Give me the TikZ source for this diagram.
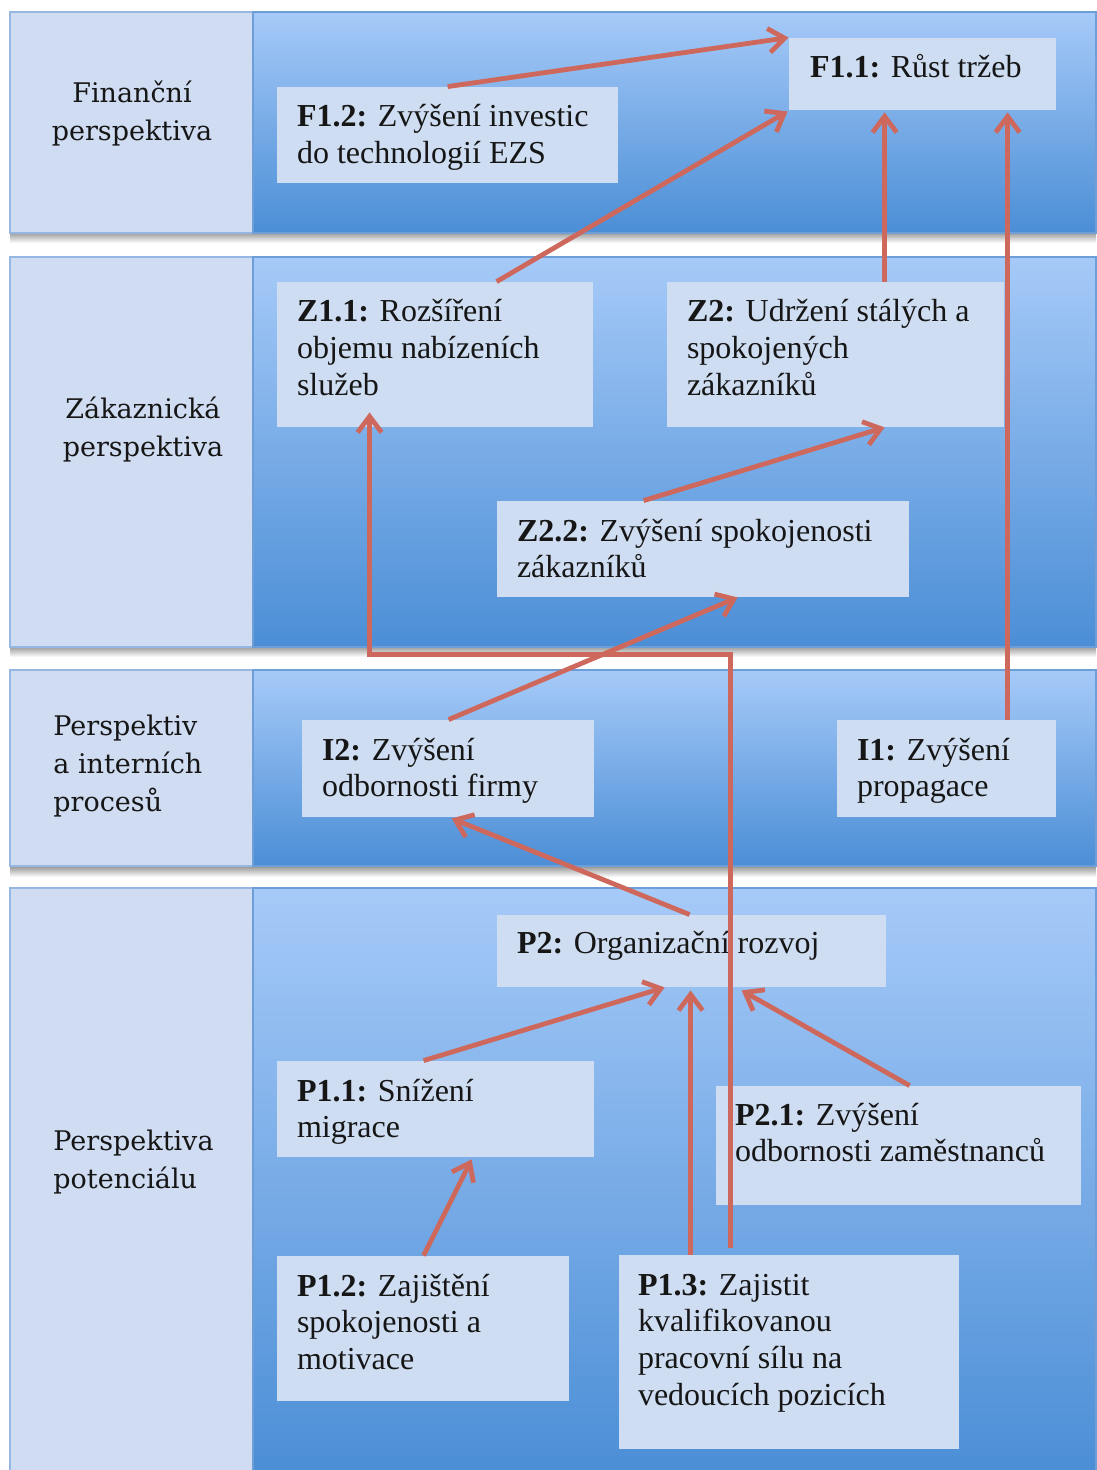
\documentclass[tikz,border=0pt]{standalone}
\usepackage{fontspec}
\setmainfont{Liberation Serif}
\newfontfamily\labelfamily{DejaVu Serif}
\usetikzlibrary{arrows.meta,calc,fit}

\definecolor{labelfill}{RGB}{207,220,241}
\definecolor{labeledge}{RGB}{150,183,226}
\definecolor{paneltop}{RGB}{166,202,248}
\definecolor{panelmid}{RGB}{123,174,234}
\definecolor{panelbot}{RGB}{75,142,214}
\definecolor{paneledge}{RGB}{110,158,215}
\definecolor{goalfill}{RGB}{206,221,242}
\definecolor{linkred}{RGB}{206,104,92}
\definecolor{inktext}{RGB}{22,22,22}

\begin{document}
\begin{tikzpicture}[
  x=0.5pt, y=-0.5pt,
  labelbox/.style={fit={#1}, inner sep=0pt, fill=labelfill, draw=labeledge, line width=0.6pt},
  panel/.style={fit={#1}, inner sep=0pt, top color=paneltop, middle color=panelmid,
                bottom color=panelbot, draw=paneledge, line width=0.6pt},
  goalbox/.style={fit={#1}, inner sep=0pt, fill=goalfill},
  goaltext/.style={anchor=north west, inner sep=0pt, align=left, text=inktext,
                   font=\fontsize{16}{18.4}\selectfont},
  bandtext/.style={inner sep=0pt, text=inktext,
                   font=\labelfamily\fontsize{13.5}{19}\selectfont},
  link/.style={draw=linkred, line width=2.4pt,
               -{Straight Barb[length=8pt,width=12pt]}},
]
\useasboundingbox (0,0) rectangle (1096,1470);
\fill[white] (0,0) rectangle (1096,1470);

% soft shadows below the three upper bands
\foreach \yb in {233,647,867}
  \shade[top color=black!38, bottom color=white] (10,\yb) rectangle (1096,\yb+10);

% perspective bands: caption cell on the left, shaded panel on the right
\node[labelbox={(10,12)(253,233)}]    (finbox) {};
\node[panel={(253,12)(1096,233)}]     (finpanel) {};
\node[labelbox={(10,257)(253,647)}]   (zakbox) {};
\node[panel={(253,257)(1096,647)}]    (zakpanel) {};
\node[labelbox={(10,670)(253,866)}]   (intbox) {};
\node[panel={(253,670)(1096,866)}]    (intpanel) {};
\node[labelbox={(10,888)(253,1476)}]  (potbox) {};
\node[panel={(253,888)(1096,1476)}]   (potpanel) {};

% band captions
\node[bandtext, align=center, anchor=north] (fint) at (132,78)
  {\rule{0pt}{12pt}Finanční\\perspektiva};
\node[bandtext, align=center, anchor=north] (zakt) at (143,394)
  {\rule{0pt}{12pt}Zákaznická\\perspektiva};
\node[bandtext, align=left, anchor=north west] (intt) at (53,711)
  {\rule{0pt}{12pt}Perspektiv\\a interních\\procesů};
\node[bandtext, align=left, anchor=north west] (pott) at (53,1126)
  {\rule{0pt}{12pt}Perspektiva\\potenciálu};

% goal boxes
\node[goalbox={(789,38)(1056,110)}]    (f11) {};
\node[goalbox={(277,87)(618,183)}]     (f12) {};
\node[goalbox={(277,282)(593,427)}]    (z11) {};
\node[goalbox={(667,282)(1004,427)}]   (z2)  {};
\node[goalbox={(497,501)(909,597)}]    (z22) {};
\node[goalbox={(302,720)(594,817)}]    (i2)  {};
\node[goalbox={(837,720)(1056,817)}]   (i1)  {};
\node[goalbox={(497,915)(886,987)}]    (p2)  {};
\node[goalbox={(277,1061)(594,1157)}]  (p11) {};
\node[goalbox={(716,1086)(1081,1205)}] (p21) {};
\node[goalbox={(277,1256)(569,1401)}]  (p12) {};
\node[goalbox={(619,1255)(959,1449)}]  (p13) {};

% goal texts
\newcommand\firstline{\rule{0pt}{14pt}}
\node[goaltext] (f11t) at ($(f11.north west)+(21,12)$) {\firstline\textbf{F1.1:} Růst tržeb};
\node[goaltext] (f12t) at ($(f12.north west)+(20,12)$) {\firstline\textbf{F1.2:} Zvýšení investic\\do technologií EZS};
\node[goaltext] (z11t) at ($(z11.north west)+(20,12)$) {\firstline\textbf{Z1.1:} Rozšíření\\objemu nabízeních\\služeb};
\node[goaltext] (z2t)  at ($(z2.north west)+(20,12)$)  {\firstline\textbf{Z2:} Udržení stálých a\\spokojených\\zákazníků};
\node[goaltext] (z22t) at ($(z22.north west)+(20,12)$) {\firstline\textbf{Z2.2:} Zvýšení spokojenosti\\zákazníků};
\node[goaltext] (i2t)  at ($(i2.north west)+(20,12)$)  {\firstline\textbf{I2:} Zvýšení\\odbornosti firmy};
\node[goaltext] (i1t)  at ($(i1.north west)+(20,12)$)  {\firstline\textbf{I1:} Zvýšení\\propagace};
\node[goaltext] (p2t)  at ($(p2.north west)+(20,10)$)  {\firstline\textbf{P2:} Organizační rozvoj};
\node[goaltext] (p11t) at ($(p11.north west)+(20,12)$) {\firstline\textbf{P1.1:} Snížení\\migrace};
\node[goaltext] (p21t) at ($(p21.north west)+(19,11)$) {\firstline\textbf{P2.1:} Zvýšení\\odbornosti zaměstnanců};
\node[goaltext] (p12t) at ($(p12.north west)+(20,12)$) {\firstline\textbf{P1.2:} Zajištění\\spokojenosti a\\motivace};
\node[goaltext] (p13t) at ($(p13.north west)+(19,12)$) {\firstline\textbf{P1.3:} Zajistit\\kvalifikovanou\\pracovní sílu na\\vedoucích pozicích};

% cause-and-effect links
\draw[link] ($(f12.north west)+(171,0)$) -- (f11.north west);
\draw[link] ($(z11.north west)+(220,0)$) -- ($(f11.south west)+(-1,1)$);
\draw[link] ($(z2.north west)+(218,0)$)  -- ($(f11.south west)+(96,2)$);
\draw[link] ($(i1.north west)+(171,0)$)  -- ($(f11.south west)+(219,2)$);
\draw[link] ($(z22.north west)+(147,0)$) -- ($(z2.south west)+(218,0)$);
\draw[link] ($(i2.north west)+(147,0)$)  -- ($(z22.south west)+(241,0)$);
\draw[link] ($(p13.north west)+(112,-7)$) -- ++(0,-593) -| ($(z11.south west)+(93,-15)$);
\draw[link] ($(p2.north west)+(193,0)$)  -- ($(i2.south west)+(150,1)$);
\draw[link] ($(p11.north west)+(147,0)$) -- ($(p2.south west)+(168,0)$);
\draw[link] ($(p13.north west)+(72,0)$)  -- ($(p2.south west)+(194,3)$);
\draw[link] ($(p21.north west)+(194,0)$) -- ($(p2.south west)+(245,3)$);
\draw[link] ($(p12.north west)+(147,0)$) -- ($(p11.south west)+(195,2)$);
\end{tikzpicture}
\end{document}
